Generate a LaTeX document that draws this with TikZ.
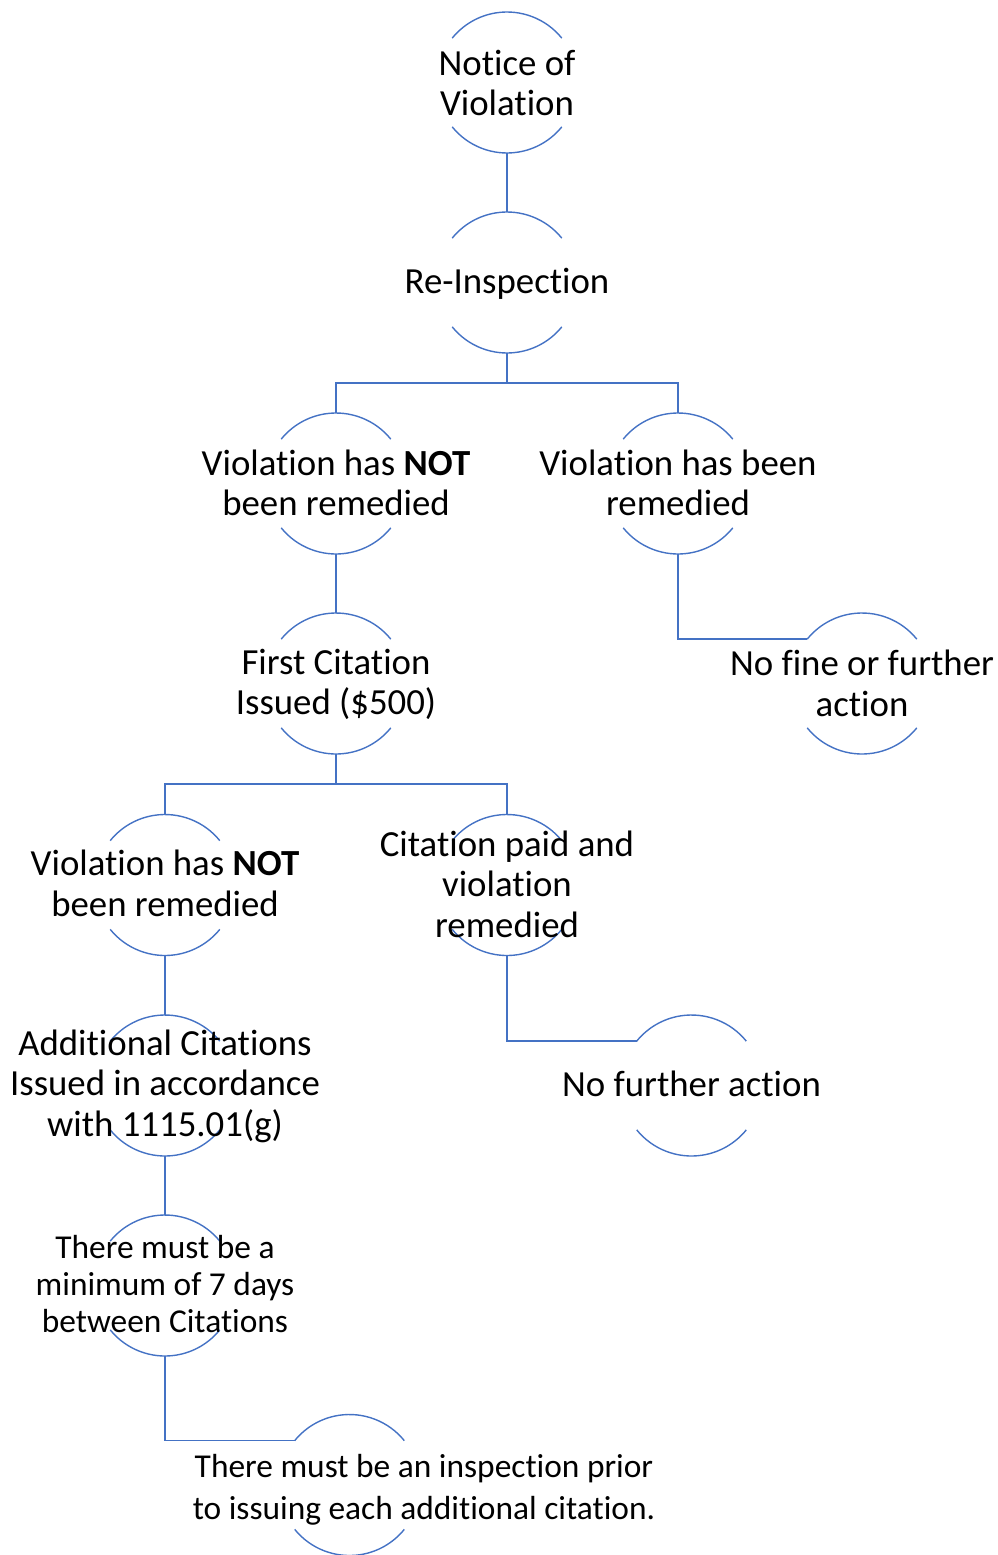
\documentclass[tikz,border=0pt]{standalone}
\usepackage{fontspec}
\setmainfont{Carlito}[Ligatures={NoCommon}]
\definecolor{lineblue}{HTML}{4472C4}
\tikzset{
 ring/.style={circle, minimum size=141pt, inner sep=0pt, outer sep=0pt, draw=none},
 arcline/.style={draw=lineblue, line width=1.4pt},
 conn/.style={draw=lineblue, line width=1.4pt},
 lbl/.style={align=center, font=\fontsize{36.8}{40.5}\selectfont, inner sep=0pt},
 lbls/.style={align=center, font=\fontsize{33.4}{37}\selectfont, inner sep=0pt},
 lblw/.style={align=center, font=\fontsize{33.4}{42}\selectfont, inner sep=0pt},
}
\newcommand{\ringarcs}[1]{%
  \draw[arcline] (#1.39) arc[start angle=39,end angle=141,radius=70.5pt];
  \draw[arcline] (#1.-141) arc[start angle=-141,end angle=-39,radius=70.5pt];}
\begin{document}
\begin{tikzpicture}[x=1pt,y=1pt]
\useasboundingbox (0,0) rectangle (998,-1555);
% rings
\node[ring] (r1) at (507,-82.5) {};
\node[ring] (r2) at (507,-282.5) {};
\node[ring] (r3) at (336,-483.5) {};
\node[ring] (r4) at (678,-483.5) {};
\node[ring] (r5) at (336,-683.5) {};
\node[ring] (r6) at (862,-683.5) {};
\node[ring] (r7) at (165,-885) {};
\node[ring] (r8) at (507,-885) {};
\node[ring] (r9) at (691.5,-1085.5) {};
\node[ring] (r10) at (165,-1085.5) {};
\node[ring] (r11) at (165,-1285.5) {};
\node[ring] (r12) at (349.5,-1485) {};
\foreach \r in {r1,r2,r3,r4,r5,r6,r7,r8,r9,r10,r11,r12} {\ringarcs{\r}}
% labels
\node[lbl] (t1) at (507,-83) {Notice of\\Violation};
\node[lbl] (t2) at (507,-283.5) {Re-Inspection};
\node[lbl] (t3) at (336,-483) {Violation has \textbf{NOT}\\been remedied};
\node[lbl] (t4) at (678,-483) {Violation has been\\remedied};
\node[lbl] (t5) at (336,-684.5) {First Citation\\Issued (\$500)};
\node[lbl] (t6) at (862,-683.5) {No fine or further\\action};
\node[lbl] (t7) at (165,-883.5) {Violation has \textbf{NOT}\\been remedied};
\node[lbl] (t8) at (507,-884) {Citation paid and\\violation\\remedied};
\node[lbl] (t9) at (691.5,-1084) {No further action};
\node[lbl] (t10) at (165,-1086) {Additional Citations\\Issued in accordance\\with 1115.01(g)};
\node[lbls] (t11) at (165,-1284.5) {There must be a\\minimum of 7 days\\between Citations};
\node[lblw] (t12) at (424,-1490) {There must be an inspection prior\\to issuing each additional citation.};
% connectors
\draw[conn] (r1.south) -- (r2.north);
\draw[conn] (r2.south) -- ++(0,-30) coordinate (j1);
\draw[conn] (j1) -| (r3.north);
\draw[conn] (j1) -| (r4.north);
\draw[conn] (r3.south) -- (r5.north);
\draw[conn] (r4.south) |- (r6.141);
\draw[conn] (r5.south) -- ++(0,-30) coordinate (j2);
\draw[conn] (j2) -| (r7.north);
\draw[conn] (j2) -| (r8.north);
\draw[conn] (r7.south) -- (r10.north);
\draw[conn] (r8.south) |- (r9.141);
\draw[conn] (r10.south) -- (r11.north);
\draw[conn] (r11.south) |- (r12.141);
\end{tikzpicture}
\end{document}
